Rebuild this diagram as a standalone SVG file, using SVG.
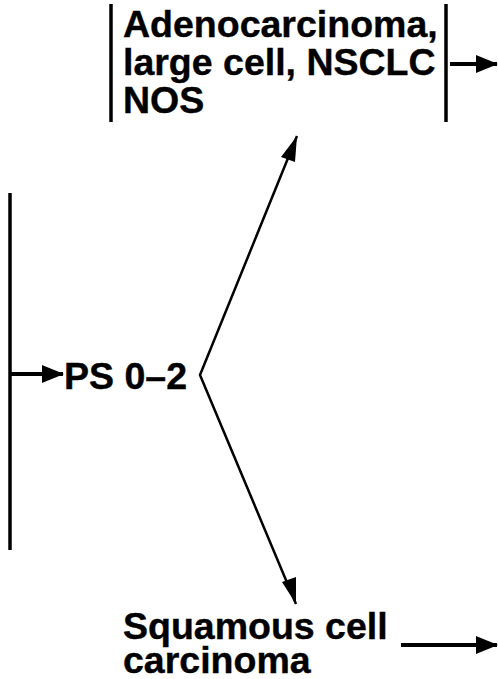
<svg xmlns="http://www.w3.org/2000/svg" width="498" height="679" viewBox="0 0 498 679">
<style>
.t{font-family:"Liberation Sans",Arial,sans-serif;font-weight:bold;font-size:37.5px;fill:#000;stroke:#000;stroke-width:0.4}
.bar{stroke:#000;stroke-width:3.5;fill:none}
.ar{stroke:#000;stroke-width:4;fill:none}
.dg{stroke:#000;stroke-width:2.5;fill:none}
</style>
<defs>
<marker id="ah" markerUnits="userSpaceOnUse" markerWidth="22" markerHeight="18" refX="21" refY="9" orient="auto">
<polygon points="0,0 22,9 0,18" fill="#000"/>
</marker>
</defs>
<rect width="498" height="679" fill="#fff"/>
<g id="adeno">
<line class="bar" x1="111" y1="4" x2="111" y2="122"/>
<line class="bar" x1="446" y1="4" x2="446" y2="122"/>
<text class="t" x="123" y="37">Adenocarcinoma,</text>
<text class="t" x="123" y="75">large cell, NSCLC</text>
<text class="t" x="123" y="113">NOS</text>
</g>
<g id="ps">
<line class="bar" x1="10" y1="193" x2="10" y2="550"/>
<text class="t" x="64" y="389">PS 0–2</text>
</g>
<g id="squamous">
<text class="t" x="123" y="639">Squamous cell</text>
<text class="t" x="123" y="673">carcinoma</text>
</g>
<g id="connectors">
<line class="ar" x1="450" y1="64" x2="497" y2="64" marker-end="url(#ah)"/>
<line class="ar" x1="10" y1="374" x2="63" y2="374" marker-end="url(#ah)"/>
<polyline class="dg" points="297,136 200,375 296,604"/>
<polygon points="297,136 281,157 295,162" fill="#000"/>
<polygon points="296,604 282,582 296,577" fill="#000"/>
<line class="ar" x1="401" y1="645" x2="497" y2="645" marker-end="url(#ah)"/>
</g>
</svg>
